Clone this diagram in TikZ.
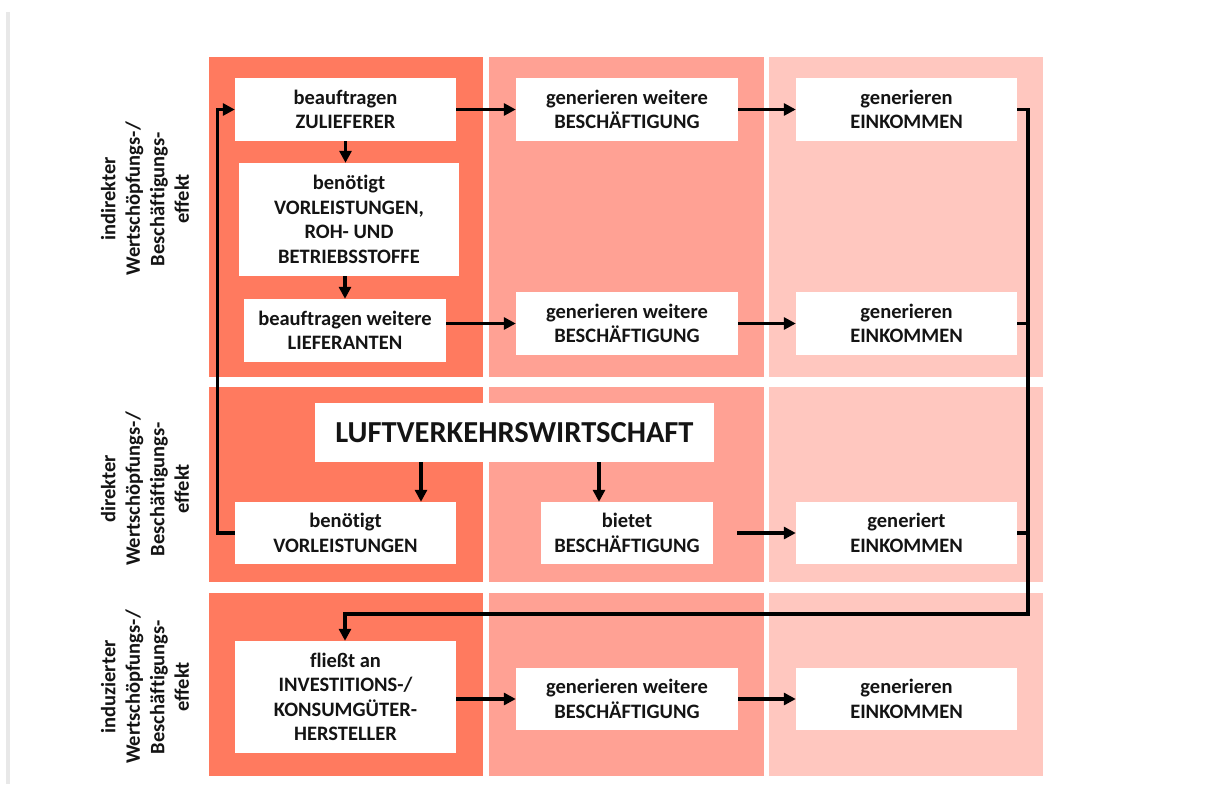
\documentclass[tikz,border=0pt]{standalone}
\usepackage{fontspec}
\setmainfont[Ligatures=NoCommon]{Carlito}
\usetikzlibrary{arrows.meta}
\definecolor{colA}{RGB}{255,122,95}
\definecolor{colB}{RGB}{255,161,148}
\definecolor{colC}{RGB}{255,199,191}
\definecolor{txt}{RGB}{20,20,20}
\begin{document}
\begin{tikzpicture}[x=1pt,y=-1pt,
  box/.style={fill=white, draw=none, align=center, text=txt, inner sep=0pt,
    font=\bfseries\fontsize{20.5}{24.5}\selectfont},
  lbl/.style={rotate=90, align=center, text=txt, inner sep=0pt,
    font=\bfseries\fontsize{20.5}{24.5}\selectfont},
  arr/.style={line width=3.2pt, -{Triangle[length=12pt,width=12pt]}},
  ln/.style={line width=3.2pt}]
\useasboundingbox[fill=white] (0,0) rectangle (1212,784);
\fill[black!9] (6,12) rectangle (10,784);
% panels
\foreach \ya/\yb in {57/377, 387/582, 593/776}{
  \fill[colA] (209,\ya) rectangle (483,\yb);
  \fill[colB] (489,\ya) rectangle (764,\yb);
  \fill[colC] (769,\ya) rectangle (1043,\yb);
}
% row labels
\node[lbl] (l1) at (145,199) {indirekter\\Wertschöpfungs-/\\Beschäftigungs-\\effekt};
\node[lbl] (l2) at (145,489) {direkter\\Wertschöpfungs-/\\Beschäftigungs-\\effekt};
\node[lbl] (l3) at (145,687) {induzierter\\Wertschöpfungs-/\\Beschäftigungs-\\effekt};
% boxes
\node[box, minimum width=221pt, minimum height=63pt] (zul) at (345.5,109.5) {beauftragen\\ZULIEFERER};
\node[box, minimum width=220pt, minimum height=113pt] (vor1) at (349,219.5) {benötigt\\VORLEISTUNGEN,\\ROH- UND\\BETRIEBSSTOFFE};
\node[box, minimum width=202pt, minimum height=63pt] (lief) at (345,330.5) {beauftragen weitere\\LIEFERANTEN};
\node[box, minimum width=222pt, minimum height=63pt] (gw1) at (627,109.5) {generieren weitere\\BESCHÄFTIGUNG};
\node[box, minimum width=221pt, minimum height=63pt] (ge1) at (906.5,109.5) {generieren\\EINKOMMEN};
\node[box, minimum width=222pt, minimum height=63pt] (gw1b) at (627,323.5) {generieren weitere\\BESCHÄFTIGUNG};
\node[box, minimum width=221pt, minimum height=63pt] (ge1b) at (906.5,323.5) {generieren\\EINKOMMEN};
\node[box, minimum width=399pt, minimum height=59pt, font=\bfseries\fontsize{30.5}{36}\selectfont] (luft) at (514.5,432.5) {LUFTVERKEHRSWIRTSCHAFT};
\node[box, minimum width=221pt, minimum height=62pt] (vor2) at (345.5,533) {benötigt\\VORLEISTUNGEN};
\node[box, minimum width=172pt, minimum height=62pt] (biet) at (627,533) {bietet\\BESCHÄFTIGUNG};
\node[box, minimum width=221pt, minimum height=62pt] (ge2) at (906.5,533) {generiert\\EINKOMMEN};
\node[box, minimum width=221pt, minimum height=112pt] (fl) at (345.5,697) {fließt an\\INVESTITIONS-/\\KONSUMGÜTER-\\HERSTELLER};
\node[box, minimum width=222pt, minimum height=62pt] (gw3) at (627,699) {generieren weitere\\BESCHÄFTIGUNG};
\node[box, minimum width=221pt, minimum height=62pt] (ge3) at (906.5,699) {generieren\\EINKOMMEN};
% connectors
\draw[arr] (zul.east) -- (gw1.west);
\draw[arr] (gw1.east) -- (ge1.west);
\draw[arr] (zul.south) -- (zul.south |- vor1.north);
\draw[arr] (lief.north |- vor1.south) -- (lief.north);
\draw[arr] (lief.east |- gw1b.west) -- (gw1b.west);
\draw[arr] (gw1b.east) -- (ge1b.west);
\draw[arr] ([xshift=-93.5pt]luft.south) -- ([xshift=-93.5pt]luft.south |- vor2.north);
\draw[arr] ([xshift=84.5pt]luft.south) -- ([xshift=84.5pt]luft.south |- biet.north);
\draw[arr] ([xshift=24pt]biet.east) -- (ge2.west);
\draw[arr] (fl.east |- gw3.west) -- (gw3.west);
\draw[arr] (gw3.east) -- (ge3.west);
\draw[arr] (vor2.west) -- ++(-17,0) |- (zul.west);
\coordinate (rc) at (1028,614);
\coordinate (lc) at (345,614);
\draw[arr] (ge1.east) -| (rc) -- (lc) -- (lc |- fl.north);
\draw[ln] (ge1b.east) -- (ge1b.east -| rc);
\draw[ln] (ge2.east) -- (ge2.east -| rc);
\end{tikzpicture}
\end{document}
